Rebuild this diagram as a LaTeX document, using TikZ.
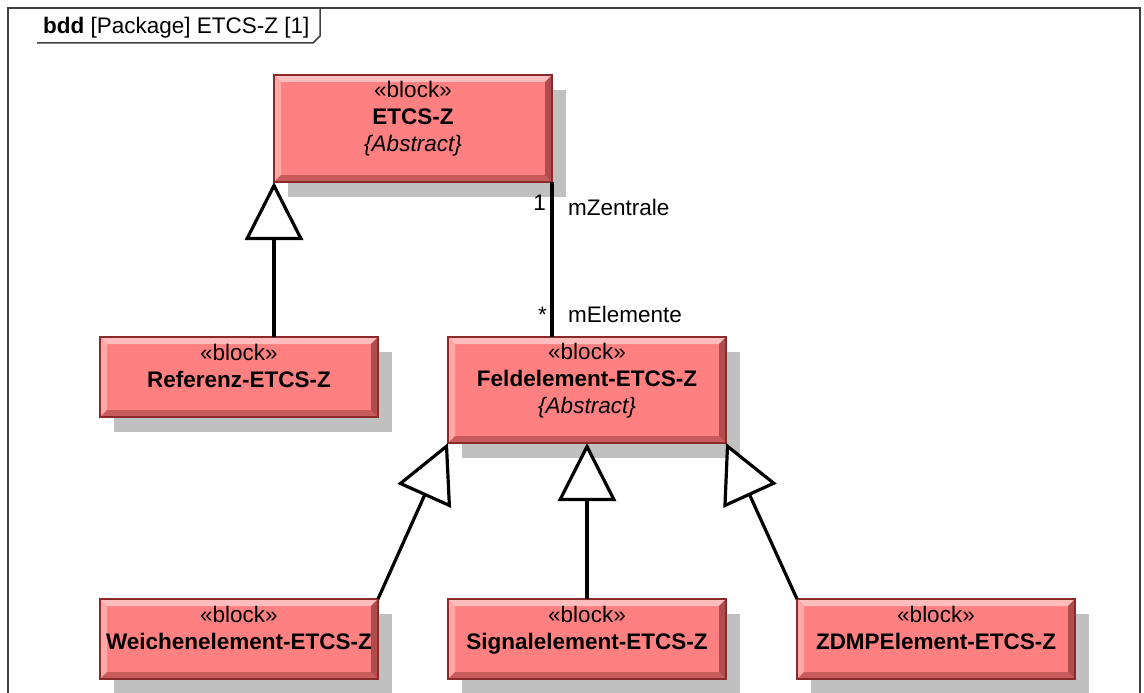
\documentclass[tikz,border=0pt]{standalone}
\usepackage{fontspec}
\setmainfont{Liberation Sans}
\usetikzlibrary{arrows.meta,shadows,calc}
\definecolor{blockfill}{HTML}{FF8080}
\definecolor{blockborder}{HTML}{8B2A2A}
\definecolor{bevTop}{HTML}{FFBDBD}
\definecolor{bevLeft}{HTML}{FFA8A8}
\definecolor{bevBottom}{HTML}{C85C5C}
\definecolor{bevRight}{HTML}{B04C4C}
\definecolor{shadowgray}{HTML}{C0C0C0}
\definecolor{framegray}{HTML}{404040}
\tikzset{
  block/.style={
    rectangle, fill=blockfill, draw=blockborder, line width=1.5pt,
    inner sep=0pt, outer sep=0pt, minimum width=278pt,
    drop shadow={shadow xshift=14pt, shadow yshift=-15pt, fill=shadowgray, opacity=1},
    path picture={
      \fill[bevTop] (path picture bounding box.north west) -- (path picture bounding box.north east)
        -- ([shift={(-7,7)}]path picture bounding box.north east) -- ([shift={(7,7)}]path picture bounding box.north west) -- cycle;
      \fill[bevLeft] (path picture bounding box.north west) -- (path picture bounding box.south west)
        -- ([shift={(7,-7)}]path picture bounding box.south west) -- ([shift={(7,7)}]path picture bounding box.north west) -- cycle;
      \fill[bevBottom] (path picture bounding box.south west) -- (path picture bounding box.south east)
        -- ([shift={(-7,-7)}]path picture bounding box.south east) -- ([shift={(7,-7)}]path picture bounding box.south west) -- cycle;
      \fill[bevRight] (path picture bounding box.north east) -- (path picture bounding box.south east)
        -- ([shift={(-7,-7)}]path picture bounding box.south east) -- ([shift={(-7,7)}]path picture bounding box.north east) -- cycle;
    }
  },
  btext/.style={anchor=north, align=center, inner sep=0pt, font=\fontsize{22.5}{27}\selectfont},
  lbl/.style={inner sep=0pt, font=\fontsize{22.5}{27}\selectfont},
  gen/.style={draw=black, line width=3.2pt, -{Triangle[fill=white, length=58pt, width=58pt]}},
  assoc/.style={draw=black, line width=3.2pt},
}
\begin{document}
\begin{tikzpicture}[x=1pt,y=-1pt]
\useasboundingbox (0,0) rectangle (1144,693);
% frame
\draw[framegray, line width=1.8pt] (8,700) -- (8,8) -- (1140,8) -- (1140,700);
\draw[framegray, line width=1.5pt] (37,43) -- (313,43) -- (320,36) -- (320,8);
\node[lbl, anchor=base west] (title) at (43,33.5) {\textbf{bdd} [Package] ETCS-Z [1]};

% blocks
\node[block, minimum height=107pt] (etcs) at (413,128.5) {};
\node[btext] (etcs-t) at ([yshift=-6pt]etcs.north) {«block»\\\textbf{ETCS-Z}\\\textit{\{Abstract\}}};

\node[block, minimum height=80pt] (ref) at (239,377) {};
\node[btext] (ref-t) at ([yshift=-7pt]ref.north) {«block»\\\textbf{Referenz-ETCS-Z}};

\node[block, minimum height=106pt] (feld) at (587,390) {};
\node[btext] (feld-t) at ([yshift=-6pt]feld.north) {«block»\\\textbf{Feldelement-ETCS-Z}\\\textit{\{Abstract\}}};

\node[block, minimum height=80pt] (weich) at (239,639) {};
\node[btext] (weich-t) at ([yshift=-7pt]weich.north) {«block»\\\textbf{Weichenelement-ETCS-Z}};

\node[block, minimum height=80pt] (signal) at (587,639) {};
\node[btext] (signal-t) at ([yshift=-7pt]signal.north) {«block»\\\textbf{Signalelement-ETCS-Z}};

\node[block, minimum height=80pt] (zdmp) at (936,639) {};
\node[btext] (zdmp-t) at ([yshift=-7pt]zdmp.north) {«block»\\\textbf{ZDMPElement-ETCS-Z}};

% association
\draw[assoc] (etcs.south east) -- (etcs.south east |- feld.north);
\node[lbl, anchor=base east] (m1) at (546,210) {1};
\node[lbl, anchor=base west] (mz) at (568,215) {mZentrale};
\node[lbl, anchor=base east] (mstar) at (547,322) {*};
\node[lbl, anchor=base west] (me) at (568,322) {mElemente};

% generalizations
\draw[gen] (etcs.south west |- ref.north) -- (etcs.south west);
\draw[gen] (weich.north east) -- (feld.south west);
\draw[gen] (signal.north) -- (feld.south);
\draw[gen] (zdmp.north west) -- (feld.south east);
\end{tikzpicture}
\end{document}
